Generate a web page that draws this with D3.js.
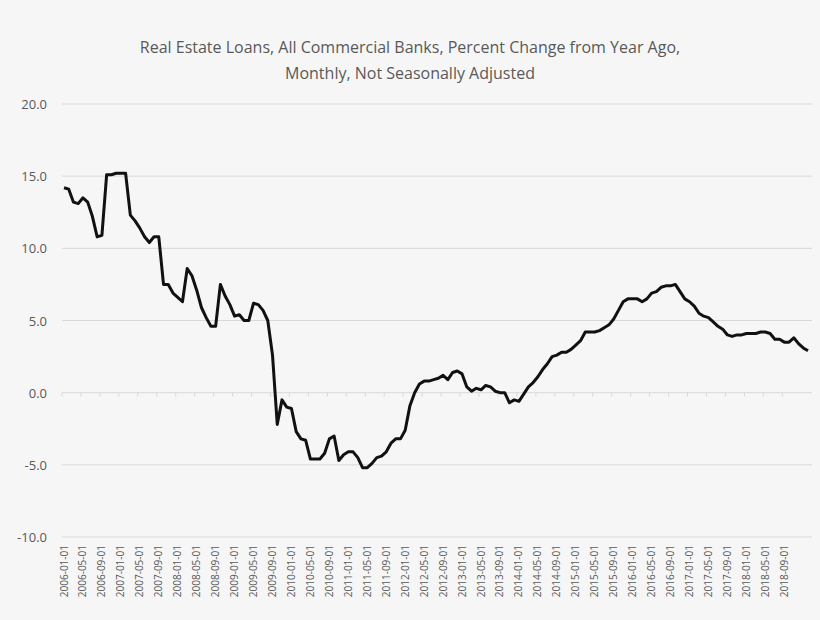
<!DOCTYPE html>
<html>
<head>
<meta charset="utf-8">
<script src="https://cdn.jsdelivr.net/npm/d3@7"></script>
<style>
  body { margin: 0; background: #f6f6f6; }
  svg { font-family: "Open Sans", "Noto Sans", sans-serif; }
</style>
</head>
<body>
<svg id="chart" width="820" height="620"></svg>
<script>
var titleLines = ['Real Estate Loans, All Commercial Banks, Percent Change from Year Ago,',
  'Monthly, Not Seasonally Adjusted'];
var yTicks = [-10, -5, 0, 5, 10, 15, 20];
var values = [
  14.2, 14.1, 13.2, 13.1, 13.5, 13.2, 12.2, 10.8, 10.9, 15.1, 15.1, 15.2,
  15.2, 15.2, 12.3, 11.9, 11.4, 10.8, 10.4, 10.8, 10.8, 7.5, 7.5, 6.9,
  6.6, 6.3, 8.6, 8.1, 7.1, 5.9, 5.2, 4.6, 4.6, 7.5, 6.7, 6.1,
  5.3, 5.4, 5.0, 5.0, 6.2, 6.1, 5.7, 5.0, 2.6, -2.2, -0.5, -1.0,
  -1.1, -2.7, -3.2, -3.3, -4.6, -4.6, -4.6, -4.2, -3.2, -3.0, -4.7, -4.3,
  -4.1, -4.1, -4.5, -5.2, -5.2, -4.9, -4.5, -4.4, -4.1, -3.5, -3.2, -3.2,
  -2.6, -0.9, 0.0, 0.6, 0.8, 0.8, 0.9, 1.0, 1.2, 0.9, 1.4, 1.5,
  1.3, 0.4, 0.1, 0.3, 0.2, 0.5, 0.4, 0.1, 0.0, 0.0, -0.7, -0.5,
  -0.6, -0.1, 0.4, 0.7, 1.1, 1.6, 2.0, 2.5, 2.6, 2.8, 2.8, 3.0,
  3.3, 3.6, 4.2, 4.2, 4.2, 4.3, 4.5, 4.7, 5.1, 5.7, 6.3, 6.5,
  6.5, 6.5, 6.3, 6.5, 6.9, 7.0, 7.3, 7.4, 7.4, 7.5, 7.0, 6.5,
  6.3, 6.0, 5.5, 5.3, 5.2, 4.9, 4.6, 4.4, 4.0, 3.9, 4.0, 4.0,
  4.1, 4.1, 4.1, 4.2, 4.2, 4.1, 3.7, 3.7, 3.5, 3.5, 3.8, 3.4,
  3.1, 2.9
];
var dates = values.map(function (v, i) {
  var yr = 2006 + Math.floor(i / 12), m = i % 12 + 1;
  return yr + '-' + (m < 10 ? '0' : '') + m + '-01';
});
var tickDates = dates.filter(function (d, i) { return i % 4 === 0 && d <= '2018-09-01'; });

var svg = d3.select('#chart');
var plotLeft = 62, plotRight = 812, plotTop = 104, plotBottom = 537;

var x = d3.scalePoint().domain(dates).range([plotLeft + 2, plotRight - 4]);
var y = d3.scaleLinear().domain([-10, 20]).range([plotBottom, plotTop]);

svg.selectAll('text.title').data(titleLines).enter().append('text')
  .attr('x', 410).attr('y', function (d, i) { return 53 + i * 26; })
  .attr('text-anchor', 'middle').attr('font-size', 16).attr('fill', '#595959')
  .text(function (d) { return d; });

svg.selectAll('line.grid').data(yTicks).enter().append('line')
  .attr('x1', plotLeft).attr('x2', plotRight)
  .attr('y1', y).attr('y2', y)
  .attr('stroke', '#d9d9d9').attr('stroke-width', 1);

svg.selectAll('text.ylab').data(yTicks).enter().append('text')
  .attr('x', 47).attr('y', function (d) { return y(d) + 5; })
  .attr('text-anchor', 'end').attr('font-size', 13).attr('fill', '#595959')
  .text(function (d) { return d.toFixed(1); });

// tick marks on the zero line
svg.selectAll('line.tick').data(tickDates).enter().append('line')
  .attr('x1', function (d) { return x(d) - 2; }).attr('x2', function (d) { return x(d) - 2; })
  .attr('y1', y(0)).attr('y2', y(0) + 4)
  .attr('stroke', '#d9d9d9');

svg.selectAll('text.xlab').data(tickDates).enter().append('text')
  .attr('transform', function (d) { return 'translate(' + (x(d) + 3.5) + ',' + 545 + ') rotate(-90)'; })
  .attr('text-anchor', 'end').attr('font-size', 10).attr('fill', '#595959')
  .text(function (d) { return d; });

svg.append('path').datum(values)
  .attr('fill', 'none').attr('stroke', '#111').attr('stroke-width', 3)
  .attr('stroke-linejoin', 'round')
  .attr('d', d3.line().x(function (d, i) { return x(dates[i]); }).y(function (d) { return y(d); }));
</script>
</body>
</html>
